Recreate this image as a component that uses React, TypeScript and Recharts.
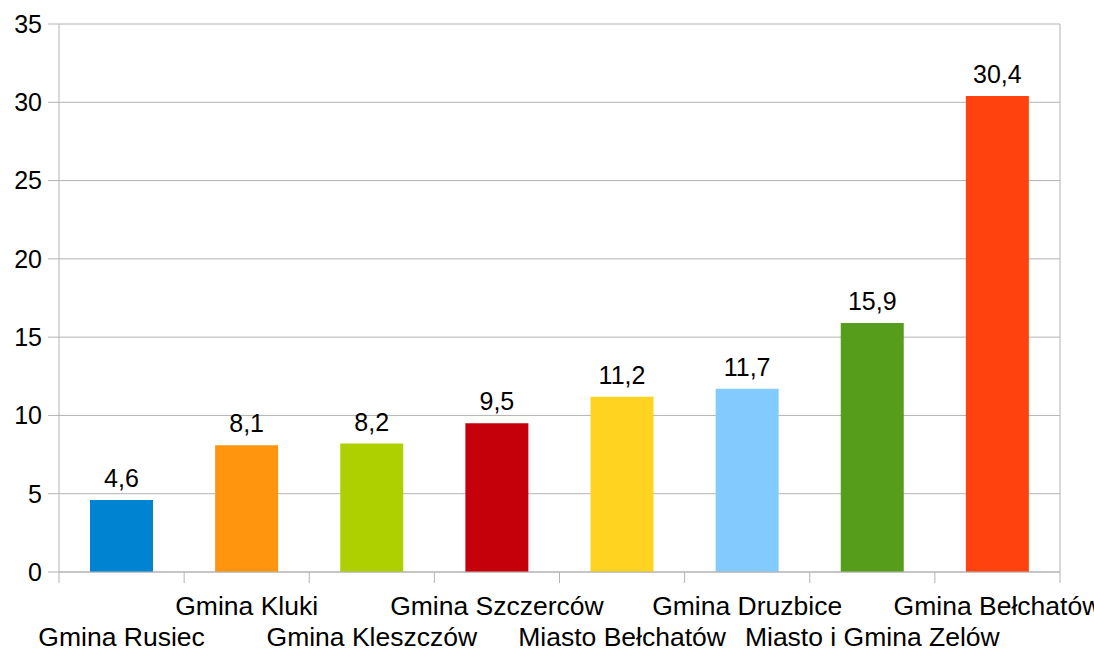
import { Bar, BarChart, CartesianGrid, Cell, LabelList, XAxis, YAxis } from "recharts";

// Bar chart, one bar per municipality, LibreOffice-style palette and staggered
// category labels (odd rows low, even rows high).
const categories = [
  "Gmina Rusiec",
  "Gmina Kluki",
  "Gmina Kleszczów",
  "Gmina Szczerców",
  "Miasto Bełchatów",
  "Gmina Druzbice",
  "Miasto i Gmina Zelów",
  "Gmina Bełchatów",
];
const values = [4.6, 8.1, 8.2, 9.5, 11.2, 11.7, 15.9, 30.4];
const colors = ["#0084d1", "#ff950e", "#aecf00", "#c5000b", "#ffd320", "#83caff", "#579d1c", "#ff420e"];
const yTicks = [0, 5, 10, 15, 20, 25, 30, 35];

const data = categories.map((name, i) => ({ name, value: values[i] }));

const W = 1094;
const H = 650;
const LEFT = 59;
const RIGHT = 34;
const GRID = "#b3b3b3";
const FONT = "'Liberation Sans', Arial, sans-serif";
const HALF_BAND = (W - LEFT - RIGHT) / categories.length / 2;

function CatTick(props: any) {
  const { x, y, payload, index } = props;
  const last = index === categories.length - 1;
  return (
    <g>
      <line x1={x - HALF_BAND} x2={x - HALF_BAND} y1={y} y2={y + 11} stroke={GRID} strokeWidth={1} />
      {last && <line x1={x + HALF_BAND} x2={x + HALF_BAND} y1={y} y2={y + 11} stroke={GRID} strokeWidth={1} />}
      <text
        x={x}
        y={y + (index % 2 === 0 ? 74 : 43)}
        textAnchor="middle"
        fontSize={26.5}
        fontFamily={FONT}
        fill="#000"
      >
        {payload.value}
      </text>
    </g>
  );
}

export default function App() {
  return (
    <div style={{ position: "absolute", left: 0, top: 0, width: W, height: H, background: "#fff" }}>
      <BarChart width={W} height={H} data={data} margin={{ top: 24, right: 0, bottom: 0, left: 0 }}>
        <CartesianGrid vertical={false} stroke={GRID} />
        <XAxis
          dataKey="name"
          interval={0}
          height={78}
          tickSize={0}
          tickMargin={0}
          tickLine={false}
          axisLine={{ stroke: GRID }}
          tick={<CatTick />}
        />
        <YAxis
          width={LEFT}
          domain={[0, 35]}
          ticks={yTicks}
          tickSize={11}
          tickMargin={6}
          tickLine={{ stroke: GRID }}
          axisLine={{ stroke: GRID }}
          tick={{ fontSize: 25, fill: "#000", fontFamily: FONT }}
        />
        <YAxis yAxisId="right" orientation="right" width={RIGHT} tick={false} tickLine={false} axisLine={{ stroke: GRID }} />
        <Bar dataKey="value" barSize={63} isAnimationActive={false}>
          {data.map((d, i) => (
            <Cell key={d.name} fill={colors[i]} />
          ))}
          <LabelList
            dataKey="value"
            position="top"
            offset={13}
            formatter={(v: any) => String(v).replace(".", ",")}
            style={{ fontSize: 25, fill: "#000", fontFamily: FONT }}
          />
        </Bar>
      </BarChart>
    </div>
  );
}
